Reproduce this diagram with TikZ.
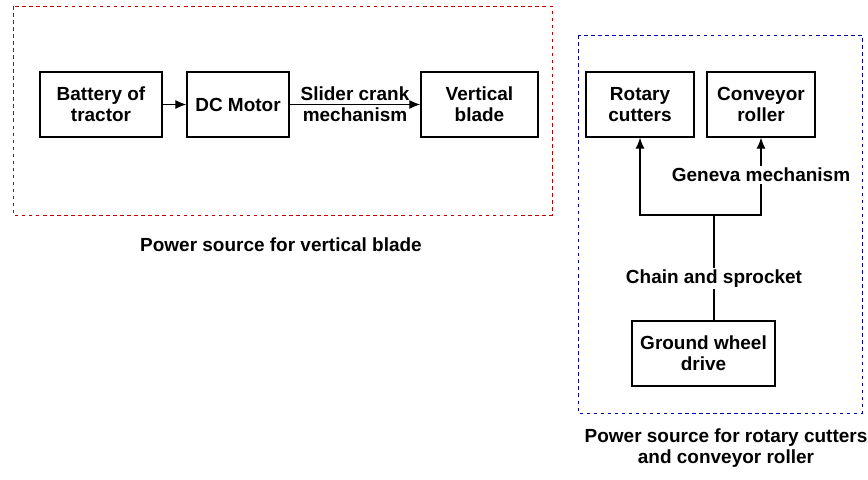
\documentclass[tikz,border=0pt]{standalone}
\usepackage{fontspec}
\setmainfont{Liberation Sans}
\usetikzlibrary{arrows.meta,positioning}

\begin{document}
\begin{tikzpicture}[every node/.style={font=\fontsize{10.8}{11.8}\selectfont\bfseries},
  blk/.style={draw,line width=0.8pt,minimum height=1.3cm,align=center,inner sep=2pt},
  link/.style={-{Latex[length=2.2mm,width=1.8mm]},line width=0.6pt}]
  \useasboundingbox (0,0) rectangle (17.36,-9.58);
  % frames
  \draw[red!75!black,dashed,dash pattern=on 2pt off 2pt,line width=0.5pt] (0.26,-0.12) rectangle (11.04,-4.30);
  \draw[blue!70!black,dashed,dash pattern=on 2pt off 2pt,line width=0.5pt] (11.56,-0.70) rectangle (17.24,-8.26);
  % vertical blade drive
  \node[blk,minimum width=2.44cm] (bat) at (2.02,-2.09) {Battery of\\tractor};
  \node[blk,minimum width=2.04cm] (dcm) at (4.76,-2.09) {DC Motor};
  \node[blk,minimum width=2.34cm] (vbl) at (9.59,-2.09) {Vertical\\blade};
  \draw[link] (bat) -- (dcm);
  \draw[link] (dcm) -- node[align=center]{Slider crank\\mechanism} (vbl);
  \node (capa) at (5.62,-4.90) {Power source for vertical blade};
  % rotary cutters and conveyor drive
  \node[blk,minimum width=2.16cm] (rot) at (12.80,-2.09) {Rotary\\cutters};
  \node[blk,minimum width=2.16cm] (con) at (15.22,-2.09) {Conveyor\\roller};
  \node[blk,minimum width=2.86cm] (gwd) at (14.07,-7.07) {Ground wheel\\drive};
  \coordinate (jn) at (14.28,-4.30);
  \draw[line width=0.6pt] (jn |- gwd.north) -- node[pos=0.4,fill=white,inner sep=1pt]{Chain and sprocket} (jn);
  \draw[link] (jn) -| (rot);
  \draw[link] (jn) -| node[pos=0.76,fill=white,inner sep=1pt]{Geneva mechanism} (con);
  \node[align=center] (capb) at (14.52,-8.96) {Power source for rotary cutters\\and conveyor roller};
\end{tikzpicture}
\end{document}
